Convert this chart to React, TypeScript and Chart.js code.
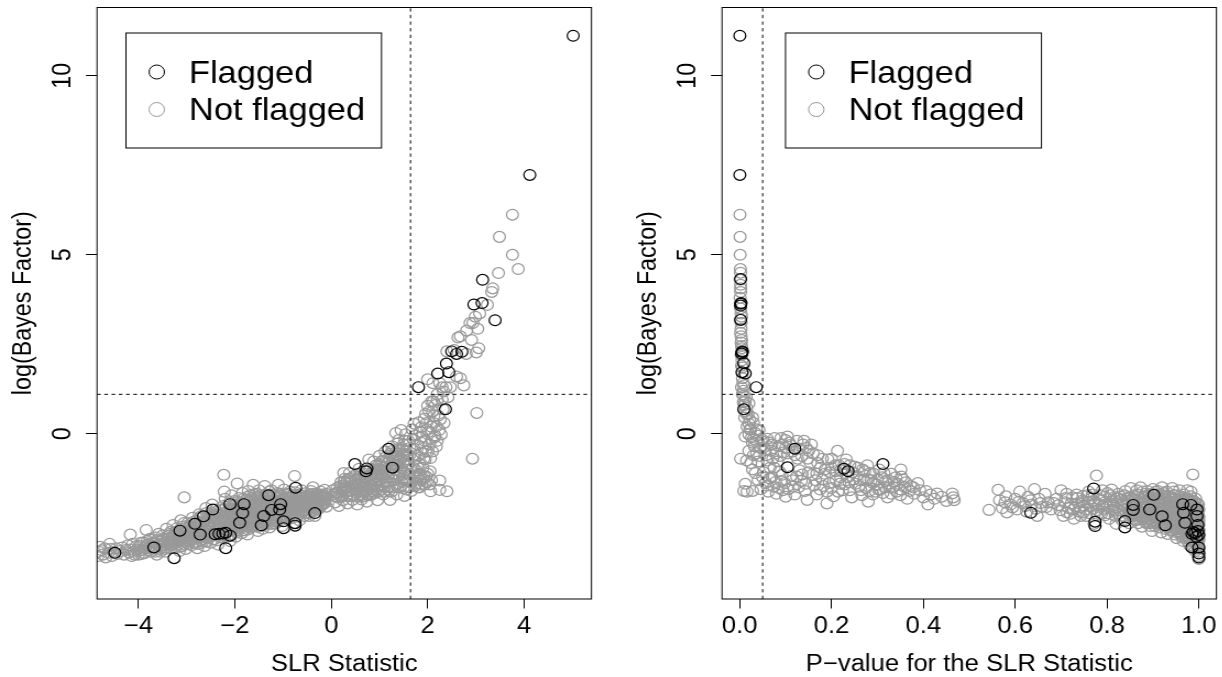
import React, { useEffect, useRef } from "react";
import { Chart, registerables } from "chart.js";

Chart.register(...registerables);

type Pt = [number, number];

const flaggedSlr: Pt[] = [
[-4.49,-3.33],[-3.68,-3.18],[-3.26,-3.48],[-3.14,-2.71],[-2.83,-2.52],[-2.72,-2.82],[-2.65,-2.31],[-2.46,-2.12],[-2.41,-2.81],[-2.33,-2.8],[-2.25,-2.79],[-2.19,-2.77],[-2.1,-2.85],[-2.19,-3.2],[-2.1,-1.97],[-1.81,-1.97],[-1.84,-2.22],[-1.9,-2.49],[-1.45,-2.56],[-1.4,-2.3],[-1.24,-2.13],[-1.3,-1.72],[-1.05,-1.97],[-1.07,-2.12],[-0.99,-2.45],[-0.99,-2.64],[-0.75,-2.5],[-0.75,-2.57],[-0.74,-1.51],[-0.34,-2.22],
[0.49,-0.85],[0.74,-0.97],[0.72,-1.05],[1.19,-0.42],[1.27,-0.95],[1.81,1.3],[2.37,0.68],[2.21,1.68],[2.44,1.72],[2.39,1.96],[2.5,2.3],[2.6,2.23],[2.71,2.29],[2.96,3.61],[3.13,3.65],[3.4,3.17],[3.14,4.3],[4.12,7.23],[5.02,11.12],
];

const notFlaggedSlrLow: Pt[] = [
[-4.84,-3.42],[-4.8,-3.16],[-4.82,-3.3],[-4.74,-3.38],[-4.68,-3.46],[-4.6,-3.08],[-4.62,-3.33],[-4.55,-3.42],[-4.47,-3.2],[-4.3,-3.38],[-4.26,-3.25],[-4.22,-3.12],[-4.17,-2.82],[-4.14,-3.42],[-4.1,-3.3],[-4.05,-3.15],[-4,-3.38],[-3.95,-3.05],[-3.92,-3.25],[-3.88,-3.34],[-3.84,-2.69],[-3.82,-3.0],[-3.78,-3.18],[-3.74,-3.3],[-3.7,-2.95],[-3.66,-3.06],[-3.62,-3.38],[-3.58,-2.8],[-3.56,-3.22],[-3.52,-2.98],[-3.48,-3.12],[-3.44,-3.3],[-3.42,-2.66],[-3.38,-2.85],[-3.34,-3.02],[-3.32,-3.2],[-3.28,-2.55],[-3.24,-2.76],[-3.22,-2.95],[-3.18,-3.1],[-3.15,-3.28],[-3.12,-2.42],[-3.1,-2.6],[-3.07,-2.85],[-3.05,-1.78],[-3.04,-3.02],[-3.02,-3.22],[-2.98,-2.5],[-2.96,-2.72],[-2.93,-2.92],[-2.9,-3.12],[-2.88,-2.35],[-2.85,-2.62],[-2.82,-2.82],[-2.8,-3.02],[-2.78,-3.2],[-2.74,-2.25],[-2.72,-2.48],[-2.68,-2.7],[-2.66,-2.95],[-2.63,-3.14],[-2.6,-2.08],[-2.58,-2.38],[-2.55,-2.6],[-2.52,-2.88],[-2.5,-3.05],[-2.47,-1.98],[-2.45,-2.28],[-2.42,-2.52],[-2.4,-2.72],[-2.37,-2.98],[-2.35,-3.1],[-2.32,-2.12],[-2.3,-2.4],[-2.28,-2.62],[-2.25,-2.9],[-2.23,-1.15],[-2.22,-1.62],[-2.2,-1.82],[-2.18,-2.05],[-2.16,-2.28],[-2.14,-2.55],[-2.12,-2.7],[-2.1,-3.0],[-2.07,-1.72],[-2.05,-2.18],[-2.03,-2.42],[-2.0,-2.64],[-1.98,-2.88],[-1.95,-1.39],[-1.94,-1.9],[-1.92,-2.1],[-1.9,-2.3],[-1.88,-2.62],[-1.86,-2.78],[-1.84,-1.66],[-1.82,-1.82],[-1.8,-2.05],[-1.78,-2.4],[-1.76,-2.6],[-1.74,-2.82],[-1.72,-1.6],[-1.7,-1.9],[-1.68,-2.15],[-1.66,-2.35],[-1.64,-2.55],[-1.62,-1.43],[-1.6,-1.7],[-1.58,-1.95],[-1.56,-2.2],[-1.54,-2.44],[-1.52,-2.72],[-1.5,-1.58],[-1.48,-1.82],[-1.46,-2.05],[-1.44,-2.32],[-1.42,-2.66],[-1.38,-1.46],[-1.36,-1.7],[-1.34,-1.92],[-1.32,-2.18],[-1.3,-2.42],[-1.28,-2.62],[-1.24,-1.58],[-1.22,-1.8],[-1.2,-2.02],[-1.18,-2.28],[-1.16,-2.52],[-1.12,-1.66],[-1.1,-1.43],[-1.08,-1.88],[-1.06,-2.28],[-1.04,-2.42],[-1.02,-2.58],[-0.98,-1.56],[-0.96,-1.78],[-0.94,-2.02],[-0.92,-2.22],[-0.9,-2.4],[-0.86,-1.62],[-0.84,-1.86],[-0.82,-2.1],[-0.8,-2.3],[-0.78,-2.5],[-0.76,-1.18],[-0.72,-1.72],[-0.7,-1.98],[-0.68,-2.2],[-0.66,-2.42],[-0.62,-1.58],[-0.6,-1.82],[-0.58,-2.04],[-0.56,-2.3],[-0.52,-1.66],[-0.5,-1.92],[-0.48,-2.14],[-0.46,-2.3],[-0.42,-1.6],[-0.4,-1.78],[-0.38,-1.5],[-0.36,-2.0],[-0.34,-2.3],[-0.3,-1.68],[-0.28,-1.88],[-0.26,-2.1],[-0.22,-1.62],[-0.2,-1.78],[-0.18,-1.98],[-0.14,-1.57],[-0.12,-1.82],[-0.1,-2.04],
];

const notFlaggedSlrLowCore: Pt[] = [
[-4.76,-3.26],[-4.52,-3.3],[-4.38,-3.28],[-4.2,-3.32],[-4.12,-3.08],[-4.03,-3.24],[-3.97,-3.14],[-3.9,-3.04],[-3.86,-3.2],[-3.8,-3.1],[-3.76,-2.94],[-3.72,-3.14],[-3.68,-3.24],[-3.64,-2.9],[-3.6,-3.12],[-3.57,-3.02],[-3.54,-3.3],[-3.5,-2.84],[-3.46,-3.04],[-3.43,-3.18],[-3.4,-2.94],[-3.36,-3.12],[-3.33,-2.74],[-3.3,-2.9],[-3.27,-3.08],[-3.25,-3.2],[-3.2,-2.64],[-3.17,-2.84],[-3.14,-3.0],[-3.11,-2.72],[-3.09,-3.14],[-3.06,-2.5],[-3.03,-2.66],[-3.0,-2.92],[-2.97,-3.08],[-2.94,-2.58],[-2.92,-2.8],[-2.89,-2.98],[-2.86,-2.46],[-2.84,-2.7],[-2.81,-2.9],[-2.79,-2.56],[-2.76,-3.08],[-2.73,-2.36],[-2.71,-2.6],[-2.69,-2.8],[-2.67,-3.02],[-2.64,-2.46],[-2.61,-2.7],[-2.59,-2.22],[-2.57,-2.9],[-2.54,-2.5],[-2.51,-2.72],[-2.49,-2.2],[-2.46,-2.42],[-2.44,-2.62],[-2.43,-2.95],[-2.39,-2.32],[-2.36,-2.56],[-2.34,-2.8],[-2.31,-2.25],[-2.29,-2.5],[-2.27,-2.72],[-2.24,-2.02],[-2.21,-2.42],[-2.19,-2.62],[-2.17,-2.18],[-2.15,-2.88],[-2.13,-2.35],[-2.11,-1.92],[-2.09,-2.5],[-2.06,-2.7],[-2.04,-2.02],[-2.02,-2.28],[-1.99,-2.54],[-1.97,-2.76],[-1.96,-2.12],[-1.93,-2.42],[-1.91,-1.8],[-1.89,-2.18],[-1.87,-2.52],[-1.85,-2.0],[-1.83,-2.7],[-1.81,-2.3],[-1.79,-1.92],[-1.77,-2.5],[-1.75,-2.15],[-1.73,-1.76],[-1.71,-2.04],[-1.69,-2.28],[-1.67,-2.62],[-1.65,-1.84],[-1.63,-2.44],[-1.61,-2.1],[-1.59,-1.78],[-1.57,-2.3],[-1.55,-2.02],[-1.53,-1.88],[-1.51,-2.5],[-1.49,-2.2],[-1.47,-1.72],[-1.45,-2.38],[-1.43,-1.96],[-1.41,-2.14],[-1.39,-1.8],[-1.37,-2.5],[-1.35,-2.28],[-1.33,-2.04],[-1.31,-1.86],[-1.29,-1.62],[-1.27,-2.32],[-1.25,-1.98],[-1.23,-2.46],[-1.21,-1.7],[-1.19,-2.16],[-1.17,-1.88],[-1.15,-2.38],[-1.13,-2.06],[-1.11,-1.78],[-1.09,-2.24],[-1.07,-1.96],[-1.05,-1.68],[-1.03,-2.12],[-1.01,-1.84],[-0.99,-2.3],[-0.97,-2.02],[-0.95,-1.7],[-0.93,-1.92],[-0.91,-2.14],[-0.89,-1.8],[-0.87,-2.28],[-0.85,-2.0],[-0.83,-1.72],[-0.81,-2.2],[-0.79,-1.9],[-0.77,-2.08],[-0.75,-1.64],[-0.73,-2.32],[-0.71,-1.84],[-0.69,-2.1],[-0.67,-1.7],[-0.65,-1.94],[-0.63,-2.24],[-0.61,-1.74],[-0.59,-2.0],[-0.57,-1.9],[-0.55,-2.14],[-0.53,-1.76],[-0.51,-2.06],[-0.49,-1.84],[-0.47,-2.22],[-0.45,-1.7],[-0.43,-1.96],[-0.41,-2.1],[-0.39,-1.86],[-0.37,-1.68],[-0.35,-2.16],[-0.33,-1.8],[-0.31,-2.02],[-0.29,-1.72],[-0.27,-1.98],[-0.25,-1.84],[-0.23,-2.04],[-0.21,-1.7],[-0.19,-1.88],[-0.16,-1.74],[-0.13,-1.94],[-0.11,-1.68],
[-2.0,-2.0],[-1.9,-2.6],[-1.8,-2.2],[-1.7,-2.46],[-1.6,-2.3],[-1.5,-2.12],[-1.4,-2.42],[-1.3,-2.12],[-1.2,-2.36],[-1.1,-2.12],[-1.0,-1.9],[-0.9,-2.06],[-2.5,-2.34],[-2.4,-2.12],[-2.3,-2.6],[-2.2,-2.5],[-2.1,-2.2],[-2.6,-2.56],[-2.7,-2.55],[-2.8,-2.74],[-2.9,-2.66],[-3.0,-2.78],[-3.1,-2.92],[-3.2,-2.78],
];

const notFlaggedSlrLowFill: Pt[] = [
[-4.7,-3.2],[-4.58,-3.22],[-4.44,-3.36],[-4.34,-3.18],[-4.18,-3.24],[-4.08,-3.38],[-3.99,-3.28],[-3.94,-3.36],[-3.84,-3.12],[-3.79,-3.26],[-3.71,-3.06],[-3.65,-3.3],[-3.61,-2.98],[-3.55,-3.12],[-3.49,-2.94],[-3.45,-3.22],[-3.39,-3.06],[-3.35,-2.8],[-3.31,-3.12],[-3.26,-2.84],[-3.23,-3.04],[-3.19,-2.72],[-3.16,-2.92],[-3.13,-3.16],[-3.08,-2.78],[-3.05,-3.1],[-3.01,-2.58],[-2.99,-2.86],[-2.95,-3.0],[-2.91,-2.52],[-2.87,-2.76],[-2.83,-3.06],[-2.8,-2.44],[-2.77,-2.64],[-2.75,-2.86],[-2.7,-2.3],[-2.65,-2.6],[-2.62,-2.84],[-2.6,-3.02],[-2.56,-2.3],[-2.53,-2.44],[-2.48,-2.66],[-2.45,-2.84],[-2.41,-2.4],[-2.38,-2.18],[-2.33,-2.7],[-2.3,-2.9],[-2.26,-2.34],[-2.24,-2.56],[-2.22,-2.12],[-2.2,-2.76],[-2.16,-2.45],[-2.13,-2.62],[-2.09,-2.1],[-2.07,-2.82],[-2.05,-2.32],[-2.02,-2.55],[-2.01,-1.88],[-1.98,-2.2],[-1.95,-2.5],[-1.93,-2.7],[-1.91,-2.02],[-1.88,-2.4],[-1.86,-2.1],[-1.84,-2.55],[-1.82,-1.96],[-1.8,-2.7],[-1.78,-2.14],[-1.76,-1.84],[-1.74,-2.3],[-1.72,-2.55],[-1.7,-2.12],[-1.68,-1.72],[-1.66,-2.02],[-1.64,-2.25],[-1.62,-2.58],[-1.6,-1.92],[-1.58,-2.42],[-1.56,-1.68],[-1.54,-2.1],[-1.52,-2.34],[-1.5,-2.6],[-1.48,-1.98],[-1.46,-2.26],[-1.44,-1.78],[-1.42,-2.06],[-1.4,-2.54],[-1.38,-1.9],[-1.36,-2.2],[-1.34,-2.4],[-1.32,-1.78],[-1.3,-2.0],[-1.28,-2.28],[-1.26,-1.9],[-1.24,-2.52],[-1.22,-2.24],[-1.2,-1.72],[-1.18,-2.0],[-1.16,-2.2],[-1.14,-1.8],[-1.12,-2.44],[-1.1,-1.94],[-1.08,-2.18],[-1.06,-1.74],[-1.04,-2.02],[-1.02,-2.34],[-1.0,-2.1],[-0.98,-1.86],[-0.96,-2.2],[-0.94,-1.88],[-0.92,-2.06],[-0.9,-1.68],[-0.88,-1.92],[-0.86,-2.16],[-0.84,-2.36],[-0.82,-1.8],[-0.8,-2.02],[-0.78,-1.72],[-0.76,-2.2],[-0.74,-1.94],[-0.72,-2.12],[-0.7,-2.3],[-0.68,-1.86],[-0.66,-2.04],[-0.64,-1.72],[-0.62,-2.14],[-0.6,-1.92],[-0.58,-2.18],[-0.56,-1.82],[-0.54,-2.02],[-0.52,-2.2],[-0.5,-1.74],[-0.48,-1.94],[-0.46,-2.08],[-0.44,-1.82],[-0.42,-2.0],[-0.4,-2.16],[-0.38,-1.92],[-0.36,-1.74],[-0.34,-2.06],[-0.32,-1.9],[-0.3,-2.1],[-0.28,-1.78],[-0.26,-1.96],[-0.24,-1.72],[-0.22,-1.9],[-0.2,-2.0],[-0.18,-1.8],[-0.16,-1.94],[-0.14,-1.72],
[-3.3,-3.0],[-3.12,-2.84],[-2.98,-2.98],[-2.88,-2.86],[-2.78,-2.74],[-2.68,-2.88],[-2.58,-2.74],[-2.48,-2.84],[-2.38,-2.66],[-2.28,-2.84],[-2.18,-2.68],[-2.08,-2.62],[-1.98,-2.62],[-1.92,-2.56],[-1.82,-2.42],[-1.72,-2.68],[-1.64,-2.36],[-1.54,-2.6],[-1.44,-2.48],[-1.34,-2.54],[-1.24,-2.36],[-1.14,-2.46],[-2.52,-2.26],[-2.42,-2.3],[-2.32,-2.28],[-2.22,-2.3],[-2.12,-2.12],[-2.02,-2.12],[-1.92,-1.98],[-1.82,-2.12],[-1.72,-1.92],[-1.62,-2.0],[-1.52,-1.76],[-1.42,-1.86],[-1.32,-1.98],[-1.22,-1.92],[-1.12,-1.9],[-1.02,-1.98],
];

const notFlaggedSlrMid: Pt[] = [
[0.06,-1.7],[0.08,-1.92],[0.12,-1.52],[0.14,-1.78],[0.16,-2.02],[0.2,-1.36],[0.22,-1.62],[0.24,-1.86],[0.28,-1.26],[0.3,-1.5],[0.32,-1.74],[0.34,-1.95],[0.38,-1.1],[0.4,-1.38],[0.42,-1.6],[0.44,-1.85],[0.48,-1.18],[0.5,-1.42],[0.52,-1.66],[0.54,-1.98],[0.58,-0.98],[0.6,-1.26],[0.62,-1.5],[0.64,-1.76],[0.68,-1.12],[0.7,-1.36],[0.72,-1.6],[0.74,-1.9],[0.78,-0.72],[0.8,-1.2],[0.82,-1.44],[0.84,-1.7],[0.88,-0.78],[0.9,-1.02],[0.92,-1.3],[0.94,-1.56],[0.96,-1.86],[1.0,-0.62],[1.02,-0.9],[1.04,-1.16],[1.06,-1.42],[1.08,-1.7],[1.12,-0.5],[1.14,-0.78],[1.16,-1.06],[1.18,-1.34],[1.2,-1.6],[1.22,-1.85],[1.26,-0.35],[1.28,-0.62],[1.3,-0.86],[1.32,-1.14],[1.34,-1.42],[1.36,-1.7],[1.4,-0.18],[1.42,-0.46],[1.44,-0.72],[1.46,-0.96],[1.48,-1.25],[1.5,-1.52],[1.52,-1.74],[1.54,-0.02],[1.56,-0.3],[1.58,-0.58],[1.6,-0.85],[1.62,-1.12],[1.64,-1.36],[1.66,-1.6],[1.34,0.02],[1.45,0.1],
[0.03,-1.58],[0.26,-1.1],[0.36,-1.5],[0.56,-1.22],[0.66,-1.62],[0.76,-1.05],[0.86,-1.3],[0.98,-1.1],[1.1,-0.96],[1.24,-1.22],[1.38,-0.9],[1.5,-0.6],[1.6,-0.2],
[0.1,-1.66],[0.18,-1.55],[0.21,-1.76],[0.26,-1.44],[0.29,-1.64],[0.33,-1.3],[0.35,-1.6],[0.39,-1.75],[0.41,-1.24],[0.43,-1.48],[0.46,-1.72],[0.49,-1.3],[0.51,-1.56],[0.53,-1.12],[0.55,-1.76],[0.57,-1.4],[0.59,-1.62],[0.61,-1.14],[0.63,-1.84],[0.65,-1.3],[0.67,-1.5],[0.69,-1.74],[0.71,-1.22],[0.73,-1.46],[0.75,-1.7],[0.77,-1.3],[0.79,-1.54],[0.81,-0.98],[0.83,-1.18],[0.85,-1.56],[0.87,-1.06],[0.89,-1.4],[0.91,-1.66],[0.93,-0.88],[0.95,-1.2],[0.97,-1.46],[0.99,-0.86],[1.01,-1.3],[1.03,-1.56],[1.05,-1.02],[1.07,-0.76],[1.09,-1.24],[1.11,-1.5],[1.13,-0.66],[1.15,-0.92],[1.17,-1.2],[1.19,-1.48],[1.21,-0.7],[1.23,-1.02],[1.25,-1.62],[1.27,-0.48],[1.29,-0.75],[1.31,-1.3],[1.33,-0.52],[1.35,-1.0],[1.37,-0.28],[1.39,-0.62],[1.41,-1.18],[1.43,-1.5],[1.47,-0.4],[1.49,-0.82],[1.51,-1.08],[1.53,-0.2],[1.55,-0.5],[1.57,-1.3],[1.59,-0.72],[1.61,-1.5],[1.63,-0.4],[1.65,-0.98],
[0.09,-1.76],[0.13,-1.66],[0.17,-1.72],[0.19,-1.46],[0.23,-1.74],[0.25,-1.55],[0.27,-1.34],[0.31,-1.62],[0.37,-1.26],[0.45,-1.54],[0.47,-1.4],[0.55,-1.48],[0.6,-1.72],[0.63,-1.38],[0.68,-1.6],[0.7,-1.06],[0.74,-1.26],[0.78,-1.46],[0.8,-1.72],[0.84,-1.1],[0.86,-1.48],[0.88,-1.62],[0.92,-1.12],[0.94,-1.36],[0.98,-1.62],[1.0,-0.98],[1.02,-1.44],[1.04,-0.78],[1.06,-1.2],[1.1,-1.62],[1.12,-1.1],[1.14,-1.34],[1.18,-0.82],[1.2,-1.14],[1.22,-0.56],[1.26,-0.82],[1.28,-1.12],[1.3,-1.5],[1.32,-0.68],[1.34,-0.9],[1.36,-1.22],[1.38,-1.5],[1.4,-0.42],[1.42,-0.78],[1.44,-1.04],[1.46,-1.36],[1.48,-0.6],[1.5,-0.3],[1.52,-1.3],[1.54,-0.76],[1.56,-1.56],[1.58,-0.92],[1.6,-1.32],[1.62,-0.6],
];

const notFlaggedSlrHigh: Pt[] = [
[1.68,0.12],[1.7,-0.15],[1.72,-0.42],[1.74,-0.7],[1.76,-1.02],[1.78,-1.25],[1.8,-1.5],[1.82,0.32],[1.84,0.05],[1.86,-0.25],[1.88,-0.55],[1.9,-0.95],[1.92,-1.18],[1.94,-1.42],[1.96,0.55],[1.98,0.3],[2.0,0.78],[2.0,1.52],[2.02,0.05],[2.04,-0.3],[2.05,-1.05],[2.06,-0.68],[2.06,-1.61],[2.08,0.9],[2.08,-1.3],[2.1,0.62],[2.11,1.41],[2.12,0.3],[2.14,-0.1],[2.16,0.8],[2.18,-0.36],[2.2,0.95],[2.22,0.5],[2.24,0.1],[2.25,1.41],[2.25,-1.31],[2.25,-1.57],[2.28,-0.02],[2.3,0.95],[2.32,0.68],[2.33,1.18],[2.4,-1.61],[2.4,2.3],[2.42,1.02],[2.47,1.3],[2.55,2.34],[2.6,1.6],[2.63,2.69],[2.68,1.55],[2.68,2.72],[2.75,1.35],[2.8,2.23],[2.81,2.88],[2.88,3.09],[2.91,2.62],[2.93,-0.7],[2.94,3.09],[2.99,3.27],[3.01,2.27],[3.02,0.58],[3.04,2.93],[3.06,2.39],[3.08,3.36],[3.24,3.6],[3.33,3.96],[3.35,4.06],[3.47,4.49],[3.49,5.5],[3.76,5.0],[3.76,6.12],[3.88,4.6],
[1.72,0.28],[1.75,-0.05],[1.78,-0.3],[1.8,-0.62],[1.83,-0.85],[1.85,-1.3],[1.87,0.18],[1.89,-0.08],[1.91,-0.4],[1.93,0.42],[1.95,-0.72],[1.97,-1.2],[1.99,0.12],[2.01,-0.5],[2.03,0.62],[2.07,0.2],[2.09,-0.15],[2.13,0.5],[2.15,-0.05],[1.76,-1.4],[1.84,-1.5],[1.9,-1.28],[1.98,-1.36],[1.86,-1.14],
[1.7,-0.95],[1.72,-1.2],[1.74,-1.46],[1.78,-0.9],[1.82,-1.12],[1.88,-1.42],[1.92,-0.7],[1.94,-0.2],[1.96,-0.5],[2.0,-1.12],[2.04,-1.42],[2.1,-0.5],[2.12,0.9],[2.18,0.2],[2.2,-0.2],[2.26,0.4],[2.34,0.3],[2.38,1.3],[2.2,1.1],[2.3,1.3],
];

const flaggedP: Pt[] = [
[0.0003,11.12],[0.0003,7.23],[0.002,4.32],[0.002,3.63],[0.002,3.58],[0.003,3.65],[0.002,3.18],[0.005,2.28],[0.006,2.3],[0.004,2.24],[0.009,1.97],[0.005,1.72],[0.012,1.68],[0.036,1.3],[0.009,0.68],[0.12,-0.42],[0.104,-0.94],[0.227,-0.98],[0.236,-1.05],[0.312,-0.85],
[0.634,-2.21],[0.771,-1.53],[0.774,-2.46],[0.774,-2.58],[0.839,-2.44],[0.839,-2.62],[0.857,-1.99],[0.857,-2.13],[0.893,-2.12],[0.902,-1.71],[0.92,-2.31],[0.927,-2.56],[0.965,-1.97],[0.967,-2.21],[0.97,-2.49],[0.983,-1.99],[0.996,-2.12],[0.996,-2.3],[0.998,-2.55],[0.985,-3.18],[1.0,-3.18],[1.0,-3.35],[1.0,-3.46],[0.985,-2.8],[0.992,-2.78],[0.998,-2.72],[1.0,-2.83],[0.988,-2.75],[0.995,-2.88],
];

const notFlaggedPHighRange: Pt[] = [
[0.543,-2.13],[0.563,-1.57],[0.566,-1.86],[0.572,-2.08],[0.58,-1.75],[0.582,-2.2],[0.59,-1.98],[0.6,-1.82],[0.604,-2.12],[0.61,-1.62],[0.617,-1.94],[0.625,-2.18],[0.628,-1.76],[0.636,-1.98],[0.642,-1.55],[0.648,-2.3],[0.652,-1.82],[0.658,-2.05],[0.665,-1.68],[0.672,-1.92],[0.678,-2.12],[0.69,-1.82],[0.694,-2.0],[0.7,-1.58],[0.705,-2.3],[0.71,-1.8],[0.716,-2.08],[0.722,-1.95],[0.728,-2.38],[0.734,-1.7],[0.74,-2.18],[0.745,-1.88],[0.75,-2.02],[0.755,-2.3],[0.76,-1.62],[0.765,-1.82],[0.77,-2.1],[0.772,-2.52],[0.777,-1.17],[0.782,-1.98],[0.788,-2.24],[0.79,-1.58],[0.795,-1.76],[0.8,-2.05],[0.805,-2.38],[0.81,-1.56],[0.812,-1.88],[0.816,-2.15],[0.82,-2.52],[0.825,-1.68],[0.83,-1.98],[0.835,-2.3],
[0.578,-1.92],[0.594,-2.06],[0.608,-1.9],[0.622,-2.02],[0.633,-1.86],[0.645,-2.1],[0.655,-1.94],[0.668,-2.05],[0.684,-1.94],[0.698,-2.14],[0.708,-1.92],[0.713,-2.2],[0.725,-1.78],[0.731,-2.04],[0.737,-1.94],[0.743,-2.3],[0.748,-1.74],[0.753,-2.12],[0.758,-1.92],[0.762,-2.22],[0.768,-1.7],[0.775,-1.94],[0.78,-2.14],[0.785,-1.72],[0.792,-2.1],[0.797,-1.9],[0.802,-2.22],[0.807,-1.72],[0.814,-2.02],[0.818,-2.3],[0.822,-1.8],[0.828,-2.14],[0.832,-1.84],[0.836,-2.12],[0.838,-1.72],
[0.712,-1.68],[0.72,-2.24],[0.727,-2.12],[0.736,-1.8],[0.742,-2.06],[0.749,-2.2],[0.757,-1.72],[0.764,-2.02],[0.771,-1.88],[0.778,-2.28],[0.784,-1.84],[0.79,-2.02],[0.796,-2.28],[0.801,-1.66],[0.806,-1.94],[0.811,-2.12],[0.815,-1.78],[0.819,-2.06],[0.824,-2.24],[0.829,-1.76],[0.833,-2.42],[0.837,-1.92],
];

const notFlaggedPTop: Pt[] = [
[0.84,-1.6],[0.842,-1.82],[0.845,-2.1],[0.848,-2.5],[0.852,-1.52],[0.855,-2.3],[0.86,-1.72],[0.862,-2.42],[0.866,-1.92],[0.87,-2.18],[0.873,-1.5],[0.876,-2.6],[0.88,-1.78],[0.882,-2.02],[0.885,-2.32],[0.888,-1.6],[0.892,-2.5],[0.895,-1.88],[0.898,-2.72],[0.9,-1.55],[0.903,-2.2],[0.906,-2.42],[0.91,-1.7],[0.912,-1.98],[0.915,-2.62],[0.918,-2.76],[0.92,-1.5],[0.922,-1.82],[0.925,-2.1],[0.928,-2.38],[0.93,-1.62],[0.932,-2.8],[0.935,-1.95],[0.937,-2.22],[0.94,-2.52],[0.942,-1.52],[0.945,-1.72],[0.947,-2.05],[0.95,-2.68],[0.952,-2.92],[0.954,-1.85],[0.956,-2.3],[0.958,-1.58],[0.96,-2.12],[0.962,-2.48],[0.964,-2.8],[0.966,-3.0],[0.968,-1.7],[0.97,-1.88],[0.972,-2.3],[0.974,-2.68],[0.975,-1.58],[0.976,-2.05],[0.978,-2.92],[0.98,-3.12],[0.982,-1.75],[0.984,-2.22],[0.986,-2.58],[0.987,-1.14],[0.988,-1.98],[0.99,-2.38],[0.991,-3.05],[0.992,-3.28],[0.993,-1.82],[0.994,-2.65],[0.995,-2.08],[0.996,-2.95],[0.997,-2.4],[0.998,-3.2],[0.9985,-2.25],[0.999,-2.65],[0.9992,-1.98],[0.9994,-3.0],[0.9995,-3.42],[0.9997,-2.82],[0.9998,-2.45],[0.9999,-3.3],[1.0,-2.12],[1.0,-3.5],
[0.85,-2.2],[0.868,-2.5],[0.878,-1.62],[0.89,-2.15],[0.908,-1.85],[0.914,-2.3],[0.924,-2.58],[0.936,-1.78],[0.944,-2.38],[0.948,-2.82],[0.955,-2.58],[0.963,-1.95],[0.971,-2.1],[0.977,-2.48],[0.983,-2.75],[0.989,-1.88],[0.99,-2.85],[0.994,-2.2],[0.997,-1.95],[0.998,-2.9],[0.958,-2.75],[0.938,-2.7],[0.918,-2.08],[0.898,-2.32],[0.876,-2.05],[0.983,-1.62],[0.973,-2.85],[0.96,-2.3],[0.946,-1.62],[0.932,-2.15],
[0.91,-2.5],[0.952,-2.2],[0.968,-2.62],[0.98,-2.35],[0.985,-2.95],[0.975,-3.0],
];

const notFlaggedPTopCore: Pt[] = [
[0.844,-1.96],[0.847,-2.24],[0.851,-1.76],[0.854,-2.04],[0.858,-2.38],[0.861,-1.86],[0.864,-2.12],[0.867,-1.7],[0.869,-2.3],[0.872,-1.98],[0.875,-2.18],[0.877,-1.84],[0.879,-2.4],[0.881,-2.2],[0.883,-1.92],[0.886,-1.74],[0.887,-2.44],[0.889,-2.02],[0.891,-2.26],[0.893,-1.8],[0.894,-2.58],[0.896,-2.1],[0.897,-1.68],[0.899,-2.42],[0.901,-1.96],[0.902,-2.3],[0.904,-2.58],[0.905,-1.78],[0.907,-2.12],[0.909,-2.34],[0.911,-1.6],[0.913,-2.42],[0.916,-1.9],[0.917,-2.2],[0.919,-2.52],[0.921,-1.72],[0.923,-2.0],[0.926,-2.28],[0.927,-2.66],[0.929,-1.86],[0.931,-2.45],[0.933,-2.02],[0.934,-2.62],[0.936,-2.3],[0.939,-2.08],[0.941,-1.84],[0.943,-2.18],[0.945,-2.6],[0.946,-2.0],[0.948,-2.45],[0.949,-1.82],[0.951,-2.14],[0.953,-2.76],[0.955,-2.02],[0.957,-2.42],[0.959,-1.75],[0.961,-2.62],[0.962,-2.24],[0.963,-2.88],[0.965,-2.05],[0.966,-1.78],[0.967,-2.4],[0.969,-2.76],[0.97,-2.18],[0.971,-2.92],[0.972,-1.8],[0.973,-2.5],[0.974,-2.0],[0.975,-2.25],[0.976,-2.78],[0.977,-1.92],[0.978,-2.6],[0.979,-2.12],[0.98,-2.7],[0.981,-1.9],[0.981,-2.98],[0.982,-2.45],[0.983,-2.08],[0.984,-2.85],[0.985,-1.88],[0.986,-2.3],[0.987,-3.0],[0.987,-2.05],[0.988,-2.5],[0.989,-3.15],[0.99,-2.1],[0.991,-2.7],[0.992,-2.25],[0.992,-1.95],[0.993,-2.48],[0.994,-3.1],[0.995,-2.75],[0.995,-2.35],[0.996,-1.95],[0.997,-2.62],[0.997,-3.05],[0.998,-2.1],[0.998,-2.45],[0.999,-2.95],[0.999,-3.1],[0.9995,-2.3],[0.9995,-2.7],[1.0,-2.55],[1.0,-2.95],[1.0,-3.2],
[0.86,-2.22],[0.871,-2.4],[0.884,-2.12],[0.9,-2.15],[0.912,-2.2],[0.921,-2.22],[0.93,-2.32],[0.94,-2.22],[0.95,-2.4],[0.96,-2.55],[0.97,-2.6],[0.98,-2.5],[0.99,-2.6],
[0.843,-2.22],[0.849,-1.88],[0.853,-2.12],[0.856,-1.82],[0.859,-2.0],[0.863,-2.28],[0.865,-1.58],[0.87,-1.84],[0.874,-2.34],[0.878,-2.2],[0.88,-1.96],[0.884,-1.68],[0.886,-2.5],[0.888,-1.98],[0.89,-2.38],[0.892,-1.72],[0.895,-2.38],[0.897,-2.0],[0.899,-1.82],[0.901,-2.5],[0.903,-2.0],[0.905,-2.26],[0.906,-1.62],[0.908,-2.5],[0.91,-2.08],[0.912,-1.82],[0.914,-2.1],[0.916,-2.5],[0.918,-1.72],[0.92,-2.02],[0.922,-2.4],[0.924,-1.66],[0.926,-1.94],[0.928,-2.18],[0.93,-2.6],[0.932,-1.74],[0.934,-2.3],[0.936,-2.52],[0.938,-1.92],[0.94,-2.38],[0.942,-2.7],[0.944,-2.04],[0.946,-2.28],[0.948,-1.72],[0.95,-2.1],[0.952,-2.54],[0.954,-2.24],[0.956,-2.72],[0.958,-1.94],[0.96,-2.8],[0.962,-2.02],[0.964,-2.4],[0.966,-2.7],[0.968,-2.0],[0.97,-2.32],[0.972,-2.72],[0.974,-1.84],[0.976,-2.3],[0.978,-2.05],[0.98,-2.9],[0.982,-2.2],[0.984,-1.92],[0.986,-2.75],[0.988,-2.2],[0.99,-2.72],[0.992,-2.6],[0.994,-2.92],[0.996,-2.5],[0.998,-2.7],[1.0,-2.35],[0.975,-2.6],[0.955,-2.15],[0.935,-2.42],[0.915,-1.8],[0.895,-2.18],[0.875,-2.28],[0.855,-2.18],
[0.962,-1.86],[0.958,-2.08],[0.964,-2.62],[0.968,-2.2],[0.97,-2.52],[0.972,-2.04],[0.974,-2.4],[0.976,-1.86],[0.978,-2.28],[0.98,-2.08],[0.982,-2.62],[0.984,-2.42],[0.986,-2.12],[0.988,-2.88],[0.99,-2.24],[0.992,-2.05],[0.994,-2.42],[0.996,-2.66],[0.998,-2.2],[1.0,-2.7],[0.93,-2.02],[0.938,-2.46],[0.944,-1.9],[0.95,-2.5],[0.94,-2.02],[0.92,-2.42],[0.91,-2.3],[0.9,-1.88],
];

const notFlaggedPLow: Pt[] = [
[0.0005,6.12],[0.0008,5.5],[0.001,5.0],[0.0015,4.6],[0.0018,4.5],[0.002,4.16],[0.002,4.06],[0.002,3.96],[0.003,3.36],[0.003,3.1],[0.003,2.93],[0.004,3.27],[0.003,2.72],[0.004,2.62],[0.004,2.45],[0.005,2.39],[0.005,2.2],[0.005,2.05],[0.006,1.85],[0.006,1.55],[0.007,1.41],[0.008,1.2],[0.009,1.05],[0.01,1.35],[0.012,0.9],[0.014,1.02],[0.015,0.72],[0.018,0.55],[0.02,0.85],[0.002,-0.7],[0.011,0.45],[0.022,0.38],[0.016,0.2],[0.024,0.12],[0.012,-0.08],[0.028,-0.25],[0.02,-0.02],[0.034,0.02],[0.037,-0.55],[0.03,0.3],[0.036,-0.2],[0.042,0.1],[0.045,-0.4],[0.06,-0.14],[0.05,-0.18],[0.02,-0.48],[0.015,-0.75],[0.024,-0.82],[0.03,-0.6],[0.04,-0.78],[0.028,-1.0],
[0.009,-1.6],[0.012,-1.4],[0.016,-1.62],[0.028,-1.6],[0.034,-1.1],[0.04,-1.3],[0.046,-1.55],[0.052,-1.08],[0.056,-1.38],[0.062,-1.62],[0.066,-0.95],[0.07,-1.2],[0.074,-1.48],[0.08,-1.68],[0.082,-0.78],[0.086,-1.05],[0.09,-1.32],[0.094,-1.58],[0.1,-1.76],[0.104,-0.55],[0.108,-0.25],[0.112,-1.18],[0.116,-1.48],[0.12,-1.7],[0.126,-0.7],[0.13,-1.02],[0.134,-1.32],[0.138,-0.3],[0.142,-1.6],[0.147,-1.85],[0.15,-0.48],[0.154,-0.82],[0.158,-1.15],[0.162,-1.45],[0.168,-1.7],[0.17,-0.6],[0.176,-0.95],[0.18,-1.28],[0.19,-1.95],[0.192,-0.72],[0.196,-1.08],[0.2,-1.52],[0.204,-1.75],[0.213,-0.48],[0.216,-0.88],[0.22,-1.22],[0.224,-1.58],[0.232,-0.72],[0.238,-1.36],[0.244,-1.78],[0.25,-0.92],[0.255,-1.18],[0.26,-1.48],[0.266,-1.72],[0.278,-0.88],[0.28,-1.9],[0.284,-1.1],[0.29,-1.38],[0.296,-1.62],[0.304,-1.0],[0.31,-1.22],[0.316,-1.5],[0.322,-1.78],[0.33,-1.12],[0.336,-1.35],[0.342,-1.62],[0.351,-1.0],[0.356,-1.28],[0.36,-1.5],[0.365,-1.82],[0.372,-1.46],[0.38,-1.68],[0.388,-1.38],[0.392,-1.58],[0.4,-1.78],[0.406,-1.6],[0.41,-1.98],[0.416,-1.7],[0.424,-1.82],[0.43,-1.67],[0.44,-1.76],[0.45,-1.88],[0.463,-1.67],[0.467,-1.86],[0.465,-1.78],
[0.03,-0.15],[0.055,-0.45],[0.07,-0.3],[0.08,-0.55],[0.09,-0.12],[0.1,-0.4],[0.104,-0.08],[0.115,-0.5],[0.125,-0.2],[0.135,-0.62],[0.145,-0.4],[0.16,-0.55],[0.18,-0.7],[0.2,-0.95],[0.06,-0.75],[0.075,-0.95],
[0.022,0.12],[0.026,-0.1],[0.032,-0.35],[0.038,-0.05],[0.043,-0.62],[0.047,-0.2],[0.053,-0.38],[0.058,-0.6],[0.064,-0.25],[0.068,-0.48],[0.072,-0.7],[0.076,-0.12],[0.084,-0.35],[0.088,-0.62],[0.092,-0.3],[0.096,-0.52],[0.1,-0.18],[0.11,-0.32],[0.12,-0.6],[0.13,-0.42],[0.14,-0.2],[0.148,-0.7],[0.156,-0.3],[0.05,-1.22],[0.06,-1.45],[0.065,-1.25],[0.078,-1.35],[0.085,-1.52],[0.092,-1.15],[0.098,-1.38],[0.106,-1.55],[0.115,-1.3],[0.124,-1.2],[0.128,-1.5],[0.136,-1.14],[0.144,-1.4],[0.15,-1.08],[0.165,-1.3],[0.175,-1.56],[0.185,-1.12],[0.195,-1.38],[0.21,-1.05],[0.218,-1.4],[0.23,-1.1],[0.24,-1.58],[0.248,-1.28],[0.262,-1.3],[0.272,-1.05],[0.275,-1.52],[0.286,-1.3],[0.3,-1.28],[0.306,-1.56],[0.318,-1.32],[0.326,-1.5],[0.34,-1.22],[0.35,-1.56],
[0.17,-0.82],[0.186,-1.0],[0.2,-0.7],[0.208,-0.88],[0.22,-1.02],[0.228,-0.85],[0.24,-0.88],[0.246,-1.08],[0.258,-0.95],[0.268,-1.0],[0.28,-1.28],[0.292,-1.12],[0.298,-1.42],[0.314,-1.1],[0.324,-1.3],[0.334,-1.5],[0.344,-1.4],[0.352,-1.2],[0.362,-1.36],[0.37,-1.6],[0.378,-1.5],[0.168,-1.12],[0.182,-1.46],[0.19,-1.62],[0.21,-1.3],[0.214,-1.62],[0.228,-1.42],[0.236,-1.22],[0.252,-1.4],[0.264,-1.58],[0.27,-1.3],[0.282,-1.6],[0.29,-1.7],[0.302,-1.56],[0.312,-1.66],[0.33,-1.68],[0.35,-1.72],[0.036,0.12],[0.028,0.45],[0.02,0.28],[0.015,0.55],[0.012,0.62],[0.01,0.8],[0.008,0.88],[0.006,1.1],[0.004,1.3],[0.006,1.7],[0.004,1.9],[0.003,2.2],[0.003,2.55],[0.002,2.82],[0.002,3.2],[0.002,3.5],[0.001,3.8],[0.001,4.3],
];

const slrXTicks = [-4, -2, 0, 2, 4];
const slrXLabels = ["−4", "−2", "0", "2", "4"];
const pXTicks = [0, 0.2, 0.4, 0.6, 0.8, 1];
const pXLabels = ["0.0", "0.2", "0.4", "0.6", "0.8", "1.0"];
const bfYTicks = [0, 5, 10];
const bfYLabels = ["0", "5", "10"];
const flaggedLabel = "Flagged";
const notFlaggedLabel = "Not flagged";
const yTitle = "log(Bayes Factor)";

const STRETCH = 1.1;
const CANVAS_W = 545.5;
const CANVAS_H = 677;
const FONT = "'Liberation Sans', Arial, sans-serif";
const AXIS_FONT = 23.3;
const LEGEND_FONT = 31.3;
const Y_MIN = -4.62;
const Y_MAX = 11.91;

function toXY(p: Pt[]) {
  return p.map(([x, y]) => ({ x, y }));
}

type PanelProps = {
  flagged: Pt[];
  notFlagged: Pt[];
  xMin: number;
  xMax: number;
  xTicks: number[];
  xLabels: string[];
  xTitle: string;
  refX: number;
  refY: number;
  left: number;
  legendLeft: number;
  legendWidth: number;
};

function Panel(props: PanelProps) {
  const ref = useRef<HTMLCanvasElement | null>(null);
  useEffect(() => {
    const { flagged, notFlagged, xMin, xMax, xTicks, xLabels, xTitle, refX, refY, legendLeft, legendWidth } = props;
    const framePlugin = {
      id: "rFrame",
      afterDraw(chart: any) {
        const { ctx, chartArea: a, scales } = chart;
        ctx.save();
        ctx.strokeStyle = "#000";
        ctx.lineWidth = 1;
        ctx.strokeRect(a.left, a.top, a.right - a.left, a.bottom - a.top);
        ctx.fillStyle = "#000";
        ctx.font = `${AXIS_FONT}px ${FONT}`;
        ctx.textAlign = "center";
        ctx.textBaseline = "middle";
        bfYTicks.forEach((v, i) => {
          ctx.save();
          ctx.translate(57.3, scales.y.getPixelForValue(v));
          ctx.rotate(-Math.PI / 2);
          ctx.fillText(bfYLabels[i], 0, 0);
          ctx.restore();
        });
        // legend
        ctx.fillStyle = "#fff";
        ctx.fillRect(legendLeft, 33, legendWidth, 115);
        ctx.strokeRect(legendLeft, 33, legendWidth, 115);
        ctx.textAlign = "left";
        ctx.font = `${LEGEND_FONT}px ${FONT}`;
        const rows: [string, string, number][] = [
          [flaggedLabel, "#000", 72],
          [notFlaggedLabel, "#999", 109.5],
        ];
        rows.forEach(([label, color, y]) => {
          ctx.beginPath();
          ctx.arc(legendLeft + 28, y, 7, 0, Math.PI * 2);
          ctx.strokeStyle = color;
          ctx.stroke();
          ctx.fillStyle = "#000";
          ctx.fillText(label, legendLeft + 57.3, y + 2);
        });
        ctx.restore();
      },
    };
    const chart = new Chart(ref.current as HTMLCanvasElement, {
      type: "scatter",
      data: {
        datasets: [
          {
            label: "refV",
            data: [{ x: refX, y: Y_MIN }, { x: refX, y: Y_MAX }],
            showLine: true,
            borderColor: "#000",
            borderWidth: 1,
            borderDash: [3.3, 3.3],
            pointRadius: 0,
            order: 1,
          },
          {
            label: "refH",
            data: [{ x: xMin, y: refY }, { x: xMax, y: refY }],
            showLine: true,
            borderColor: "#000",
            borderWidth: 1,
            borderDash: [3.3, 3.3],
            pointRadius: 0,
            order: 1,
          },
          {
            label: flaggedLabel,
            data: toXY(flagged),
            pointStyle: "circle",
            pointRadius: 5.4,
            pointBorderWidth: 1.2,
            pointBorderColor: "#000",
            pointBackgroundColor: "transparent",
            order: 2,
          },
          {
            label: notFlaggedLabel,
            data: toXY(notFlagged),
            pointStyle: "circle",
            pointRadius: 5.4,
            pointBorderWidth: 1.25,
            pointBorderColor: "#999",
            pointBackgroundColor: "transparent",
            order: 3,
          },
        ],
      } as any,
      options: {
        animation: false,
        responsive: false,
        maintainAspectRatio: false,
        layout: { padding: { top: 7.5, right: CANVAS_W - 538.2, left: 0, bottom: 0 } },
        plugins: { legend: { display: false }, tooltip: { enabled: false } },
        scales: {
          x: {
            type: "linear",
            min: xMin,
            max: xMax,
            afterBuildTicks: (s: any) => {
              s.ticks = xTicks.map((value) => ({ value }));
            },
            afterFit: (s: any) => {
              s.height = CANVAS_H - 599;
            },
            border: { display: false },
            grid: { drawOnChartArea: false, drawTicks: true, tickLength: 9.5, tickColor: "#000", tickWidth: 1 },
            ticks: {
              autoSkip: false,
              maxRotation: 0,
              minRotation: 0,
              padding: 4,
              color: "#000",
              font: { family: FONT, size: AXIS_FONT },
              callback: (_v: any, i: number) => xLabels[i],
            },
            title: {
              display: true,
              text: xTitle,
              color: "#000",
              font: { family: FONT, size: AXIS_FONT },
              padding: { top: 0, bottom: -2 },
            },
          },
          y: {
            type: "linear",
            min: Y_MIN,
            max: Y_MAX,
            afterBuildTicks: (s: any) => {
              s.ticks = bfYTicks.map((value) => ({ value }));
            },
            afterFit: (s: any) => {
              s.width = 88.2;
            },
            border: { display: false },
            grid: { drawOnChartArea: false, drawTicks: true, tickLength: 10, tickColor: "#000", tickWidth: 1 },
            ticks: { display: false },
            title: {
              display: true,
              text: yTitle,
              color: "#000",
              font: { family: FONT, size: AXIS_FONT },
              padding: { top: 7.8, bottom: 0 },
            },
          },
        },
      } as any,
      plugins: [framePlugin],
    });
    return () => chart.destroy();
  }, []);
  return (
    <div
      style={{
        position: "absolute",
        left: props.left,
        top: 0,
        width: CANVAS_W,
        height: CANVAS_H,
        transform: `scaleX(${STRETCH})`,
        transformOrigin: "0 0",
      }}
    >
      <canvas ref={ref} width={CANVAS_W} height={CANVAS_H} style={{ display: "block" }} />
    </div>
  );
}

export default function App() {
  return (
    <div style={{ position: "fixed", left: 0, top: 0, width: 1222, height: 677, overflow: "hidden", background: "#fff" }}>
      <Panel
        flagged={flaggedSlr}
        notFlagged={[...notFlaggedSlrLow, ...notFlaggedSlrLowCore, ...notFlaggedSlrLowFill, ...notFlaggedSlrMid, ...notFlaggedSlrHigh]}
        xMin={-4.86}
        xMax={5.4}
        xTicks={slrXTicks}
        xLabels={slrXLabels}
        xTitle="SLR Statistic"
        refX={1.645}
        refY={1.1}
        left={0}
        legendLeft={114.5}
        legendWidth={232.3}
      />
      <Panel
        flagged={flaggedP}
        notFlagged={[...notFlaggedPHighRange, ...notFlaggedPTop, ...notFlaggedPTopCore, ...notFlaggedPLow]}
        xMin={-0.0385}
        xMax={1.0385}
        xTicks={pXTicks}
        xLabels={pXLabels}
        xTitle="P−value for the SLR Statistic"
        refX={0.05}
        refY={1.1}
        left={624.5}
        legendLeft={145.9}
        legendWidth={232.7}
      />
    </div>
  );
}
